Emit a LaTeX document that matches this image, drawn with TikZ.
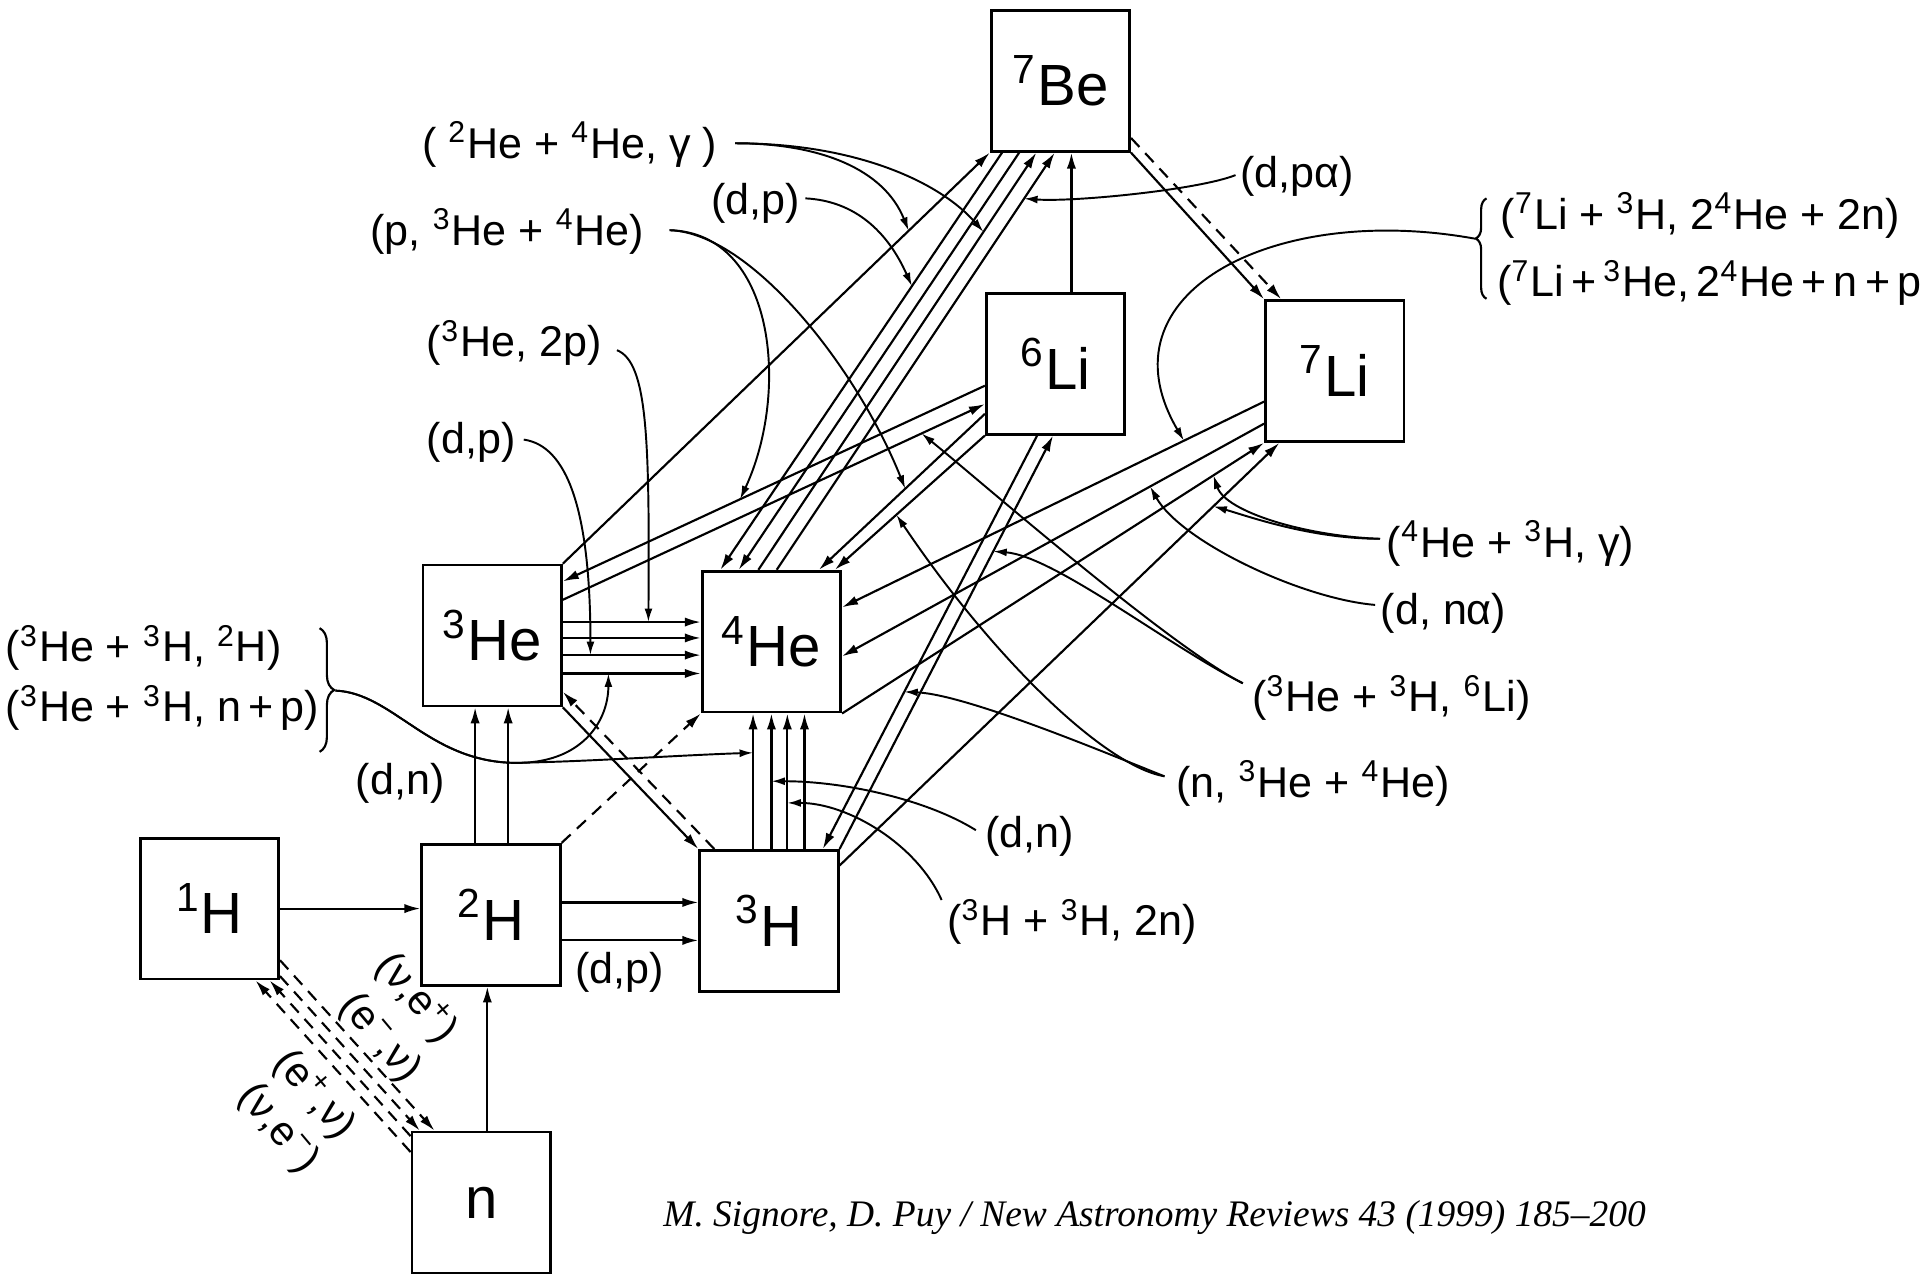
\documentclass[tikz,border=0pt]{standalone}
\usepackage{fontspec}
\setmainfont{Liberation Sans}
\newfontfamily\citefont{Liberation Serif}
\usetikzlibrary{arrows.meta,calc,decorations.pathreplacing}

\begin{document}
\begin{tikzpicture}[x=0.01cm, y=-0.01cm,
  nuc/.style={draw, line width=0.65pt, minimum width=1.13cm, minimum height=1.15cm,
    inner sep=0pt, font=\fontsize{13.5}{15}\selectfont},
  lbl/.style={anchor=west, inner sep=0pt, font=\fontsize{10}{12}\selectfont},
  wk/.style={inner sep=0pt, rotate=-50, font=\fontsize{9.6}{11}\selectfont},
  rx/.style={line width=0.5pt, -{Latex[length=1.3mm,width=0.75mm]}},
  weak/.style={rx, dash pattern=on 1mm off 0.7mm},
  ptr/.style={line width=0.45pt, -{Latex[length=1.1mm,width=0.65mm]}},
  curly/.style={line width=0.5pt, decorate, decoration={brace, amplitude=#1}}
]
  \useasboundingbox (0,0) rectangle (1568,1042);

  % Nuclei
  \node[nuc] (be7) at (866,66)  {\textsuperscript{7}Be};
  \node[nuc] (li6) at (862,297) {\textsuperscript{6}Li};
  \node[nuc] (li7) at (1090,303) {\textsuperscript{7}Li};
  \node[nuc] (he3) at (402,519) {\textsuperscript{3}He};
  \node[nuc] (he4) at (630,524) {\textsuperscript{4}He};
  \node[nuc] (h1)  at (171,742) {\textsuperscript{1}H};
  \node[nuc] (h2)  at (401,747) {\textsuperscript{2}H};
  \node[nuc] (h3)  at (628,752) {\textsuperscript{3}H};
  \node[nuc] (nn)  at (393,982) {n};

  % Light end
  \draw[rx] (h1.east) -- (h1.east -| h2.west);
  \draw[rx] ($(nn.north)+(5,0)$) -- ($(nn.north |- h2.south)+(5,0)$);
  \foreach \dx in {-13,14}
    \draw[rx] ($(h2.north)+(\dx,0)$) -- ($(h2.north |- he3.south)+(\dx,0)$);
  \foreach \dy in {-10,21}
    \draw[rx] ($(h2.east)+(0,\dy)$) -- ($(h2.east -| h3.west)+(0,\dy)$);
  \draw[weak] (h2.north east) -- (he4.south west);
  \draw[rx] (he3.south east) -- (h3.north west);
  \draw[weak] ($(h3.north west)+(13,0)$) -- ($(he3.east)+(0,46)$);

  % weak rates between p and n
  \draw[weak] ($(nn.north west)+(0,17.5)$) -- ($(h1.south east)+(-20,0)$);
  \draw[weak] ($(nn.north west)+(0,4.5)$) -- ($(h1.south east)+(-8.5,0)$);
  \draw[weak] ($(h1.south east)+(0,-3.5)$) -- ($(nn.north west)+(7.5,0)$);
  \draw[weak] ($(h1.south east)+(0,-16.5)$) -- ($(nn.north west)+(19.5,0)$);

  % into 4He
  \foreach \dy/\nm/\pp in {-11/ha/0.62, 2/hb/0.5, 16/hc/0.2, 31/hd/0.33}
    \draw[rx] ($(he3.east)+(0,\dy)$) -- coordinate[pos=\pp] (\nm) ($(he3.east -| he4.west)+(0,\dy)$);
  \foreach \dx/\nm/\pp in {-13/va/0.71, 2/vb/0.5, 15/vc/0.34, 29/vd/0.5}
    \draw[rx] ($(h3.north)+(\dx,0)$) -- coordinate[pos=\pp] (\nm) ($(h3.north |- he4.south)+(\dx,0)$);

  % 7Be
  \draw[rx] (he3.north east) -- coordinate[pos=0.81] (lnA) (be7.south west);
  \foreach \a/\b/\nm/\pp in {10/16/lnB/0.32, 24/31/lnC/0.5}
    \draw[rx] ($(be7.south west)+(\a,0)$) -- coordinate[pos=\pp] (\nm) ($(he4.north west)+(\b,0)$);
  \foreach \a/\b/\nm/\pp in {47/38/lnD/0.81, 62/53/lnE/0.89}
    \draw[rx] ($(he4.north west)+(\a,0)$) -- coordinate[pos=\pp] (\nm) ($(be7.south west)+(\b,0)$);
  \draw[rx] ($(li6.north)+(13,0)$) -- ($(li6.north |- be7.south)+(13,0)$);
  \draw[rx] (be7.south east) -- (li7.north west);
  \draw[weak] ($(be7.south east)+(0,-12)$) -- ($(li7.north west)+(14,0)$);

  % 6Li
  \draw[rx] ($(li6.west)+(0,18)$) -- coordinate[pos=0.58] (lnL1) ($(he3.north east)+(0,14.5)$);
  \draw[rx] ($(he3.north east)+(0,29.5)$) -- coordinate[pos=0.85] (lnL2) ($(li6.west)+(0,33)$);
  \draw[rx] ($(li6.west)+(0,41)$) -- coordinate[pos=0.48] (lnL3) ($(he4.north west)+(96.5,0)$);
  \draw[rx] (li6.south west) -- coordinate[pos=0.59] (lnL4) ($(he4.north west)+(109.5,0)$);
  \draw[rx] ($(li6.south)+(-15,0)$) -- coordinate[pos=0.62] (lnL5) ($(h3.north)+(44,0)$);
  \draw[rx] (h3.north east) -- coordinate[pos=0.72] (lnL6) ($(li6.south)+(-2,0)$);

  % 7Li
  \draw[rx] ($(li7.west)+(0,25)$) -- coordinate[pos=0.19] (lnM1) ($(he4.east)+(0,-28)$);
  \draw[rx] ($(li7.west)+(0,43)$) -- coordinate[pos=0.27] (lnM2) ($(he4.east)+(0,12)$);
  \draw[rx] (he4.south east) -- coordinate[pos=0.88] (lnN1) (li7.south west);
  \draw[rx] ($(h3.north east)+(0,13.5)$) -- coordinate[pos=0.85] (lnN2) ($(li7.south west)+(12.5,0)$);

  % Reaction labels
  \node[lbl] (lHeGam) at (344,118) {( \textsuperscript{2}He + \textsuperscript{4}He, γ )};
  \node[lbl] (lDp1) at (580,166) {(d,p)};
  \node[lbl] (lPHe) at (302,189) {(p, \textsuperscript{3}He + \textsuperscript{4}He)};
  \node[lbl] (lHe2p) at (348,280) {(\textsuperscript{3}He, 2p)};
  \node[lbl] (lDp2) at (348,361) {(d,p)};
  \node[lbl] (lHHa) at (4,529) {(\textsuperscript{3}He + \textsuperscript{3}H, \textsuperscript{2}H)};
  \node[lbl] (lHHb) at (4,578) {(\textsuperscript{3}He + \textsuperscript{3}H, n\,+\,p)};
  \node[lbl] (lDn1) at (290,640) {(d,n)};
  \node[lbl] (lDp3) at (469,794) {(d,p)};
  \node[lbl] (lDpa) at (1012,144) {(d,pα)};
  \node[lbl] (lLiTa) at (1225,176) {(\textsuperscript{7}Li + \textsuperscript{3}H, 2\textsuperscript{4}He + 2n)};
  \node[lbl] (lLiTb) at (1222,231) {(\textsuperscript{7}Li\,+\,\textsuperscript{3}He,\,2\textsuperscript{4}He\,+\,n\,+\,p};
  \node[lbl] (lHeHg) at (1132,444) {(\textsuperscript{4}He + \textsuperscript{3}H, γ)};
  \node[lbl] (lDna) at (1127,501) {(d, nα)};
  \node[lbl] (lHHLi) at (1022,570) {(\textsuperscript{3}He + \textsuperscript{3}H, \textsuperscript{6}Li)};
  \node[lbl] (lNHe) at (960,640) {(n, \textsuperscript{3}He + \textsuperscript{4}He)};
  \node[lbl] (lDn2) at (804,683) {(d,n)};
  \node[lbl] (lHHn) at (773,753) {(\textsuperscript{3}H + \textsuperscript{3}H, 2n)};
  \node[wk] (wA) at (340,815) {(ν,e\textsuperscript{+})};
  \node[wk] (wB) at (310,848) {(e\textsuperscript{−},ν)};
  \node[wk] (wC) at (257,894) {(e\textsuperscript{+},ν)};
  \node[wk] (wD) at (227,922) {(ν,e\textsuperscript{−})};

  % Braces
  \draw[curly=3.4pt] (261,513) -- (261,614);
  \coordinate (bL) at (274,564);
  \coordinate (bLj) at (420,623);
  \draw[curly=2.5pt, decoration={aspect=0.6}] (1214,244) -- (1214,162);
  \coordinate (bR) at (1205,195);

  % Label arrows
  \draw[ptr] ($(lHeGam.east)+(14,-1)$) .. controls +(70,0) and +(-20,-50) .. (lnA);
  \draw[ptr] ($(lHeGam.east)+(14,-1)$) .. controls +(100,0) and +(-35,-40) .. (lnD);
  \draw[ptr] ($(lDp1.east)+(4,-4)$) .. controls +(40,2) and +(-20,-45) .. (lnB);
  \draw[ptr] ($(lPHe.east)+(20,-1)$) .. controls +(86,2) and +(41,-88) .. (lnL1);
  \draw[ptr] ($(lPHe.east)+(20,-1)$) .. controls +(66,2) and +(-40,-100) .. (lnL3);
  \draw[ptr] ($(lHe2p.east)+(12,6)$) .. controls +(25,10) and +(1,-150) .. (ha);
  \draw[ptr] ($(lDp2.east)+(6,-2)$) .. controls +(35,5) and +(0,-120) .. (hc);
  \draw[ptr] (bL) .. controls +(47,2) and +(-70,-1) .. (bLj) .. controls +(55,1) and +(0,39) .. (hd);
  \draw[ptr] (bL) .. controls +(47,2) and +(-70,-1) .. (bLj) .. controls +(60,-1) and +(-60,2) .. (va);
  \draw[ptr] ($(lDpa.west)+(-3,-1)$) .. controls +(-30,12) and +(40,3) .. (lnE);
  \draw[ptr] (bR) .. controls +(-164,-30) and +(-71,-121) .. (lnM1);
  \draw[ptr] ($(lHeHg.west)+(-5,-4)$) .. controls +(-60,-2) and +(10,30) .. (lnN1);
  \draw[ptr] ($(lHeHg.west)+(-5,-4)$) .. controls +(-57,0) and +(28,8) .. (lnN2);
  \draw[ptr] ($(lDna.west)+(-4,-7)$) .. controls +(-60,-5) and +(25,45) .. (lnM2);
  \draw[ptr] ($(lHHLi.west)+(-7,-12)$) .. controls +(-60,-30) and +(50,4) .. (lnL6);
  \draw[ptr] ($(lHHLi.west)+(-7,-12)$) .. controls +(-60,-30) and +(47,38) .. (lnL2);
  \draw[ptr] ($(lNHe.west)+(-9,-6)$) .. controls +(-50,-20) and +(50,2) .. (lnL5);
  \draw[ptr] ($(lNHe.west)+(-9,-6)$) .. controls +(-51,-9) and +(76,113) .. (lnL4);
  \draw[ptr] ($(lDn2.west)+(-7,-5)$) .. controls +(-40,-25) and +(60,0) .. (vb);
  \draw[ptr] ($(lHHn.west)+(-4,-18)$) .. controls +(-20,-45) and +(50,0) .. (vc);

  % Source
  \node[anchor=west, inner sep=0pt, font=\citefont\itshape\fontsize{8.7}{10}\selectfont] (src)
    at (541,994) {M. Signore, D. Puy / New Astronomy Reviews 43 (1999) 185\textendash 200};

\end{tikzpicture}
\end{document}
